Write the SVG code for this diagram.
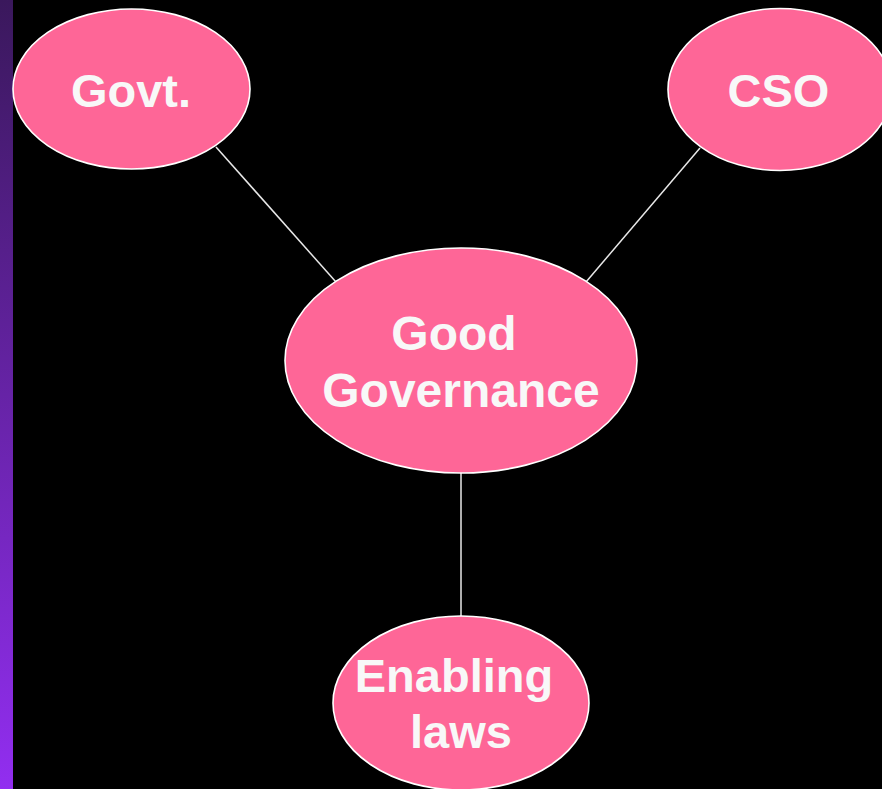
<svg xmlns="http://www.w3.org/2000/svg" width="882" height="789" viewBox="0 0 882 789">
<defs>
<linearGradient id="bar" x1="0" y1="0" x2="0" y2="1">
<stop offset="0" stop-color="#3a185c"/>
<stop offset="1" stop-color="#922ef0"/>
</linearGradient>
<style>
.node ellipse{fill:#fe6697;stroke:#ffffff;stroke-width:1.6}
.node text{font-family:"Liberation Sans",Arial,sans-serif;font-weight:bold;font-size:47px;fill:#f8f8f8;text-anchor:middle}
.node text.big{font-size:48px}
.conn line{stroke:#e8e8e8;stroke-width:1.5}
</style>
</defs>
<rect x="0" y="0" width="882" height="789" fill="#000000"/>
<rect x="0" y="0" width="13" height="789" fill="url(#bar)"/>
<g class="conn" id="connectors">
<line x1="216" y1="147" x2="336" y2="282"/>
<line x1="700" y1="148" x2="586" y2="282"/>
<line x1="461" y1="473" x2="461" y2="616"/>
</g>
<g class="node" id="govt">
<ellipse cx="131.5" cy="89" rx="118.5" ry="80"/>
<text x="131" y="107">Govt.</text>
</g>
<g class="node" id="cso">
<ellipse cx="780" cy="89.5" rx="112" ry="81"/>
<text x="778.5" y="107">CSO</text>
</g>
<g class="node" id="good-governance">
<ellipse cx="461" cy="360.5" rx="176" ry="112.5"/>
<text class="big" x="454" y="350">Good</text>
<text class="big" x="461" y="407">Governance</text>
</g>
<g class="node" id="enabling-laws">
<ellipse cx="461" cy="703" rx="128" ry="87"/>
<text x="454" y="692">Enabling</text>
<text x="461" y="748">laws</text>
</g>
</svg>
